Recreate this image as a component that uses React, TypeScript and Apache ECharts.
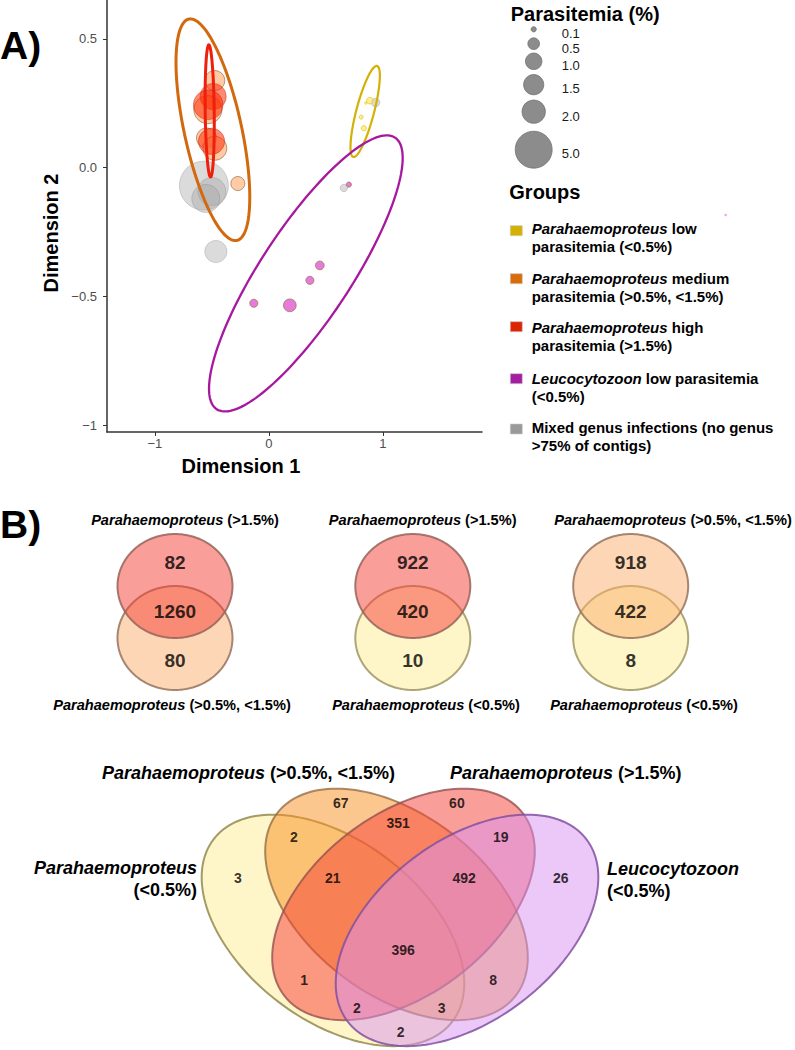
import React, { useEffect, useRef } from 'react';
import * as echarts from 'echarts';

const FONT = '"Liberation Sans", Arial, Helvetica, sans-serif';

// ---------------- Panel A data: [Dimension 1, Dimension 2, parasitemia %] ----------------
const lowParaPoints = [[0.886, 0.26, 0.16], [0.851, 0.251, 0.02], [0.81, 0.196, 0.06], [0.833, 0.153, 0.1]];
const mediumParaPoints = [[-0.474, 0.338, 1.47], [-0.535, 0.225, 2.9], [-0.547, 0.115, 1.47], [-0.474, 0.075, 2.1], [-0.272, -0.062, 0.72]];
const highParaPoints = [[-0.489, 0.276, 2.5], [-0.532, 0.244, 3.2], [-0.503, 0.102, 2.5]];
const leucoPoints = [[0.702, -0.066, 0.1], [0.447, -0.38, 0.28], [0.36, -0.438, 0.24], [-0.132, -0.527, 0.24], [0.184, -0.535, 0.6]];
const mixedPoints = [[0.936, 0.253, 0.27], [0.658, -0.079, 0.2], [-0.57, -0.07, 8.8], [-0.5, -0.093, 2.9], [-0.553, -0.12, 2.9], [-0.465, -0.326, 1.8]];

// confidence ellipses: [centre x, centre y, semi-diameter 1 (dx, dy), conjugate semi-diameter 2 (dx, dy)]
const lowParaEllipse = [0.845, 0.218, 0.1044, 0.1767, 0.0755, -0.0087];
const mediumParaEllipse = [-0.491, 0.147, -0.2105, 0.43, 0.2458, 0.0235];
const highParaEllipse = [-0.519, 0.22, -0.0075, 0.2566, 0.0395, 0.0002];
const leucoEllipse = [0.3246, -0.411, 0.782, 0.5275, 0.332, -0.0961];

const xTicks = [-1, 0, 1];
const xTickLabels = ['\u22121', '0', '1'];
const yTicks = [-1, -0.5, 0, 0.5];
const yTickLabels = ['\u22121', '\u22120.5', '0.0', '0.5'];

const sizeLegendValues = [0.1, 0.5, 1.0, 1.5, 2.0, 5.0];
const sizeLegendLabels = ['0.1', '0.5', '1.0', '1.5', '2.0', '5.0'];

const groupGenus = ['Parahaemoproteus', 'Parahaemoproteus', 'Parahaemoproteus', 'Leucocytozoon', ''];
const groupLine1Rest = [' low', ' medium', ' high', ' low parasitemia', 'Mixed genus infections (no genus'];
const groupLine2 = ['parasitemia (<0.5%)', 'parasitemia (>0.5%, <1.5%)', 'parasitemia (>1.5%)', '(<0.5%)', '>75% of contigs)'];

// ---------------- Panel B data ----------------
const pairTopSet = ['(>1.5%)', '(>1.5%)', '(>0.5%, <1.5%)'];
const pairBottomSet = ['(>0.5%, <1.5%)', '(<0.5%)', '(<0.5%)'];
const pairTopOnly = [82, 922, 918];
const pairShared = [1260, 420, 422];
const pairBottomOnly = [80, 10, 8];

// four-set Venn: A = P. (<0.5%), B = P. (>0.5%, <1.5%), C = P. (>1.5%), D = Leucocytozoon (<0.5%)
const quadRegions = ['A', 'B', 'C', 'D', 'AB', 'BC', 'CD', 'ABC', 'BCD', 'ABCD', 'AC', 'BD', 'ACD', 'ABD', 'AD'];
const quadCounts = [3, 67, 60, 26, 2, 351, 19, 21, 492, 396, 1, 8, 2, 3, 2];

// ---------------- layout / style (not data) ----------------
const C_LOW = '#D4B106';
const C_MED = '#D2690F';
const C_HIGH = '#EE200C';
const C_LEU = '#A6199F';

const sizeOf = (v: number) => 16.5 * Math.sqrt(v);

const sizeLegendCircleY = [29.3, 43.7, 61.3, 84.7, 111.7, 149.7];
const sizeLegendLabelY = [33.7, 48.3, 65.3, 88.7, 116, 153.7];
const groupSwatchColor = ['#D4B000', '#D96C0A', '#DC2400', '#A41FA0', '#999999'];
const groupSwatchY = [230.7, 278.7, 326.7, 378.7, 429];
const groupLine1Y = [228.7, 278, 327.7, 378.7, 427];

const pairCenterX = [175, 412.8, 630.7];
const pairTopLabelX = [185, 422.7, 673];
const pairBottomLabelX = [172, 426, 644];
const pairFill = [
  ['rgba(245,61,53,0.5)', 'rgba(251,175,107,0.5)'],
  ['rgba(245,61,53,0.5)', 'rgba(253,235,147,0.5)'],
  ['rgba(251,175,107,0.5)', 'rgba(253,235,147,0.5)'],
];
const pairStroke = [
  ['rgba(150,100,90,0.85)', 'rgba(150,115,95,0.85)'],
  ['rgba(150,100,90,0.85)', 'rgba(160,150,100,0.85)'],
  ['rgba(150,115,95,0.85)', 'rgba(160,150,100,0.85)'],
];

// quad venn geometry in its own unit square
const quadEllipses = [
  [0.3504, 0.4405, 0.347, 0.211, -42.4],
  [0.4922, 0.5036, 0.347, 0.211, -42.4],
  [0.5078, 0.5036, 0.347, 0.211, 42.4],
  [0.6496, 0.4405, 0.347, 0.211, 42.4],
];
const quadFill = ['rgba(253,235,147,0.5)', 'rgba(247,143,32,0.5)', 'rgba(245,61,53,0.5)', 'rgba(217,145,241,0.5)'];
const quadStroke = ['rgba(140,130,70,0.8)', 'rgba(150,110,70,0.8)', 'rgba(150,80,80,0.8)', 'rgba(130,80,160,0.85)'];
const quadLabelPos = [
  [0.138, 0.568], [0.368, 0.75], [0.627, 0.75], [0.859, 0.568], [0.263, 0.667], [0.496, 0.701], [0.725, 0.667],
  [0.35, 0.568], [0.643, 0.568], [0.507, 0.393], [0.286, 0.32], [0.708, 0.32], [0.404, 0.252], [0.593, 0.252], [0.5016, 0.194],
];

function conjEllipseRender(stroke: string, lw: number) {
  return (params: any, api: any) => {
    const cx = api.value(0), cy = api.value(1), ax = api.value(2), ay = api.value(3), bx = api.value(4), by = api.value(5);
    const pts: number[][] = [];
    const N = 160;
    for (let i = 0; i < N; i++) {
      const t = (i / N) * Math.PI * 2;
      pts.push(api.coord([cx + ax * Math.cos(t) + bx * Math.sin(t), cy + ay * Math.cos(t) + by * Math.sin(t)]));
    }
    return { type: 'polygon', shape: { points: pts }, style: { fill: 'none', stroke, lineWidth: lw } };
  };
}

function vennEllipseRender(fill: string, stroke: string, lw: number) {
  return (params: any, api: any) => {
    const cx = api.value(0), cy = api.value(1), a = api.value(2), b = api.value(3), rot = (api.value(4) * Math.PI) / 180;
    const pts: number[][] = [];
    const N = 160;
    for (let i = 0; i < N; i++) {
      const t = (i / N) * Math.PI * 2;
      const ex = a * Math.cos(t), ey = b * Math.sin(t);
      pts.push(api.coord([cx + ex * Math.cos(rot) - ey * Math.sin(rot), cy + ex * Math.sin(rot) + ey * Math.cos(rot)]));
    }
    return { type: 'polygon', shape: { points: pts }, style: { fill, stroke, lineWidth: lw } };
  };
}

function txt(x: number, y: number, text: string, o: any = {}) {
  return {
    type: 'text',
    x,
    y,
    rotation: o.rotation || 0,
    silent: true,
    style: {
      text,
      fontFamily: FONT,
      fontSize: o.size || 14,
      fontWeight: o.weight || 'normal',
      fontStyle: o.style || 'normal',
      fill: o.color || '#000',
      align: o.align || 'left',
      textAlign: o.align || 'left',
      verticalAlign: 'middle',
      textVerticalAlign: 'middle',
      rich: o.rich,
    },
  };
}

function richSet(size: number, weight: string) {
  return {
    i: { fontFamily: FONT, fontSize: size, fontWeight: weight, fontStyle: 'italic', fill: '#000' },
    n: { fontFamily: FONT, fontSize: size, fontWeight: weight, fontStyle: 'normal', fill: '#000' },
  };
}

export default function App() {
  const ref = useRef<HTMLDivElement>(null);
  useEffect(() => {
    if (!ref.current) return;
    const chart = echarts.init(ref.current, undefined, { renderer: 'svg' });

    const grids: any[] = [{ left: 107, top: 0, width: 375, height: 432 }];
    const xAxes: any[] = [
      {
        type: 'value', gridIndex: 0, min: -1.42, max: 1.87,
        axisLine: { show: true, onZero: false, lineStyle: { color: '#333', width: 1.5 } },
        axisTick: { show: true, length: 4, customValues: xTicks, lineStyle: { color: '#333' } },
        axisLabel: {
          customValues: xTicks, margin: 5, color: '#4D4D4D', fontSize: 13, fontFamily: FONT,
          formatter: (v: number) => { const i = xTicks.findIndex((t) => Math.abs(t - v) < 1e-9); return i >= 0 ? xTickLabels[i] : ''; },
        },
        splitLine: { show: false },
      },
    ];
    const yAxes: any[] = [
      {
        type: 'value', gridIndex: 0, min: -1.027, max: 0.651,
        axisLine: { show: true, onZero: false, lineStyle: { color: '#333', width: 1.5 } },
        axisTick: { show: true, length: 4, customValues: yTicks, lineStyle: { color: '#333' } },
        axisLabel: {
          customValues: yTicks, margin: 10, color: '#4D4D4D', fontSize: 13, fontFamily: FONT,
          formatter: (v: number) => { const i = yTicks.findIndex((t) => Math.abs(t - v) < 1e-9); return i >= 0 ? yTickLabels[i] : ''; },
        },
        splitLine: { show: false },
      },
    ];

    const series: any[] = [];
    const pointSeries = (data: number[][], color: string, border: string) => ({
      type: 'scatter', xAxisIndex: 0, yAxisIndex: 0, data, silent: true,
      symbolSize: (v: number[]) => sizeOf(v[2]),
      itemStyle: { color, borderColor: border, borderWidth: 0.8 },
    });
    series.push(pointSeries(mixedPoints, 'rgba(165,165,165,0.5)', 'rgba(120,120,120,0.45)'));
    series.push(pointSeries(lowParaPoints, 'rgba(255,232,110,0.9)', '#E2C000'));
    series.push(pointSeries(leucoPoints, '#E05ACF', '#8C6A3A'));
    series.push(pointSeries(mediumParaPoints, 'rgba(255,178,122,0.85)', '#96603C'));
    series.push(pointSeries(highParaPoints, 'rgba(255,40,0,0.68)', 'rgba(190,40,20,0.8)'));

    const ellipseSeries = (e: number[], color: string, lw: number) => ({
      type: 'custom', xAxisIndex: 0, yAxisIndex: 0, data: [e], silent: true, clip: false, z: 5,
      encode: { x: 0, y: 1 }, renderItem: conjEllipseRender(color, lw),
    });
    series.push(ellipseSeries(lowParaEllipse, C_LOW, 2.2));
    series.push(ellipseSeries(mediumParaEllipse, C_MED, 3));
    series.push(ellipseSeries(highParaEllipse, C_HIGH, 3));
    series.push(ellipseSeries(leucoEllipse, C_LEU, 2.3));

    // pairwise Venns
    for (let k = 0; k < 3; k++) {
      const gi = grids.length;
      grids.push({ left: pairCenterX[k] - 115, top: 508, width: 230, height: 208 });
      xAxes.push({ type: 'value', gridIndex: gi, min: -2, max: 2, show: false });
      yAxes.push({ type: 'value', gridIndex: gi, min: -2, max: 2, show: false });
      series.push({
        type: 'custom', xAxisIndex: gi, yAxisIndex: gi, silent: true, clip: false, data: [[0, -0.5, 1, 1, 0]],
        encode: { x: 0, y: 1 }, renderItem: vennEllipseRender(pairFill[k][1], pairStroke[k][1], 2),
      });
      series.push({
        type: 'custom', xAxisIndex: gi, yAxisIndex: gi, silent: true, clip: false, data: [[0, 0.5, 1, 1, 0]],
        encode: { x: 0, y: 1 }, renderItem: vennEllipseRender(pairFill[k][0], pairStroke[k][0], 2),
      });
      series.push({
        type: 'scatter', xAxisIndex: gi, yAxisIndex: gi, silent: true, z: 10, symbolSize: 1,
        itemStyle: { color: 'rgba(0,0,0,0)' },
        data: [[0, 0.96, pairTopOnly[k]], [0, 0.01, pairShared[k]], [0, -0.94, pairBottomOnly[k]]],
        label: {
          show: true, position: 'inside', color: '#000', fontSize: 19, fontWeight: 'bold', fontFamily: FONT,
          formatter: (p: any) => String(p.value[2]),
        },
      });
    }

    // four-set Venn
    const qg = grids.length;
    grids.push({ left: 176, top: 700, width: 448, height: 350.2 });
    xAxes.push({ type: 'value', gridIndex: qg, min: 0, max: 1, show: false });
    yAxes.push({ type: 'value', gridIndex: qg, min: 0.15, max: 1, show: false });
    quadEllipses.forEach((e, i) => {
      series.push({
        type: 'custom', xAxisIndex: qg, yAxisIndex: qg, silent: true, clip: false, data: [e],
        encode: { x: 0, y: 1 }, renderItem: vennEllipseRender(quadFill[i], quadStroke[i], 2),
      });
    });
    series.push({
      type: 'scatter', xAxisIndex: qg, yAxisIndex: qg, silent: true, z: 10, symbolSize: 1,
      itemStyle: { color: 'rgba(0,0,0,0)' },
      data: quadRegions.map((r, i) => ({ name: r, value: [quadLabelPos[i][0], quadLabelPos[i][1], quadCounts[i]] })),
      label: {
        show: true, position: 'inside', color: '#000', fontSize: 14, fontWeight: 'bold', fontFamily: FONT,
        formatter: (p: any) => String(p.value[2]),
      },
    });

    // graphic texts & legends
    const g: any[] = [];
    g.push(txt(0, 45, 'A)', { size: 39, weight: 'bold' }));
    g.push(txt(0, 524, 'B)', { size: 39, weight: 'bold' }));
    g.push(txt(51, 233, 'Dimension 2', { size: 20, weight: 'bold', align: 'center', rotation: Math.PI / 2 }));
    g.push(txt(241, 466, 'Dimension 1', { size: 20, weight: 'bold', align: 'center' }));

    g.push(txt(510.7, 14, 'Parasitemia (%)', { size: 20, weight: 'bold' }));
    sizeLegendValues.forEach((v, i) => {
      g.push({
        type: 'circle', silent: true, shape: { cx: 533.7, cy: sizeLegendCircleY[i], r: sizeOf(v) / 2 },
        style: { fill: '#8C8C8C', stroke: '#707070', lineWidth: 0.8 },
      });
      g.push(txt(561.7, sizeLegendLabelY[i], sizeLegendLabels[i], { size: 13, color: '#1a1a1a' }));
    });
    g.push(txt(509.3, 192.3, 'Groups', { size: 20, weight: 'bold' }));
    const lr = richSet(15, 'bold');
    groupGenus.forEach((gen, i) => {
      g.push({
        type: 'rect', silent: true, shape: { x: 510.3, y: groupSwatchY[i] - 5, width: 12, height: 10 },
        style: { fill: groupSwatchColor[i], stroke: 'rgba(200,200,200,0.6)', lineWidth: 1 },
      });
      const line1 = gen ? `{i|${gen}}{n|${groupLine1Rest[i]}}` : `{n|${groupLine1Rest[i]}}`;
      g.push(txt(531.7, groupLine1Y[i], line1, { size: 15, weight: 'bold', rich: lr }));
      g.push(txt(531.7, groupLine1Y[i] + 18, `{n|${groupLine2[i]}}`, { size: 15, weight: 'bold', rich: lr }));
    });
    g.push({ type: 'circle', silent: true, shape: { cx: 725.7, cy: 215, r: 1.3 }, style: { fill: '#F2A6F0' } });

    // pairwise Venn set labels
    const pr = richSet(14.6, 'bold');
    for (let k = 0; k < 3; k++) {
      g.push(txt(pairTopLabelX[k], 520, `{i|Parahaemoproteus}{n| ${pairTopSet[k]}}`, { size: 14.6, align: 'center', rich: pr }));
      g.push(txt(pairBottomLabelX[k], 705, `{i|Parahaemoproteus}{n| ${pairBottomSet[k]}}`, { size: 14.6, align: 'center', rich: pr }));
    }
    // quad Venn set labels
    const qr = richSet(18, 'bold');
    g.push(txt(102, 773, '{i|Parahaemoproteus}{n| (>0.5%, <1.5%)}', { size: 18, weight: 'bold', rich: qr }));
    g.push(txt(450, 773, '{i|Parahaemoproteus}{n| (>1.5%)}', { size: 18, weight: 'bold', rich: qr }));
    g.push(txt(197, 868, '{i|Parahaemoproteus}', { size: 18, weight: 'bold', align: 'right', rich: qr }));
    g.push(txt(197, 890, '{n|(<0.5%)}', { size: 18, weight: 'bold', align: 'right', rich: qr }));
    g.push(txt(607, 869, '{i|Leucocytozoon}', { size: 18, weight: 'bold', rich: qr }));
    g.push(txt(607, 891, '{n|(<0.5%)}', { size: 18, weight: 'bold', rich: qr }));

    chart.setOption({
      animation: false,
      backgroundColor: '#fff',
      grid: grids,
      xAxis: xAxes,
      yAxis: yAxes,
      series,
      graphic: { elements: g },
    });
    return () => chart.dispose();
  }, []);
  return <div ref={ref} style={{ position: 'absolute', left: 0, top: 0, width: 795, height: 1050 }} />;
}
